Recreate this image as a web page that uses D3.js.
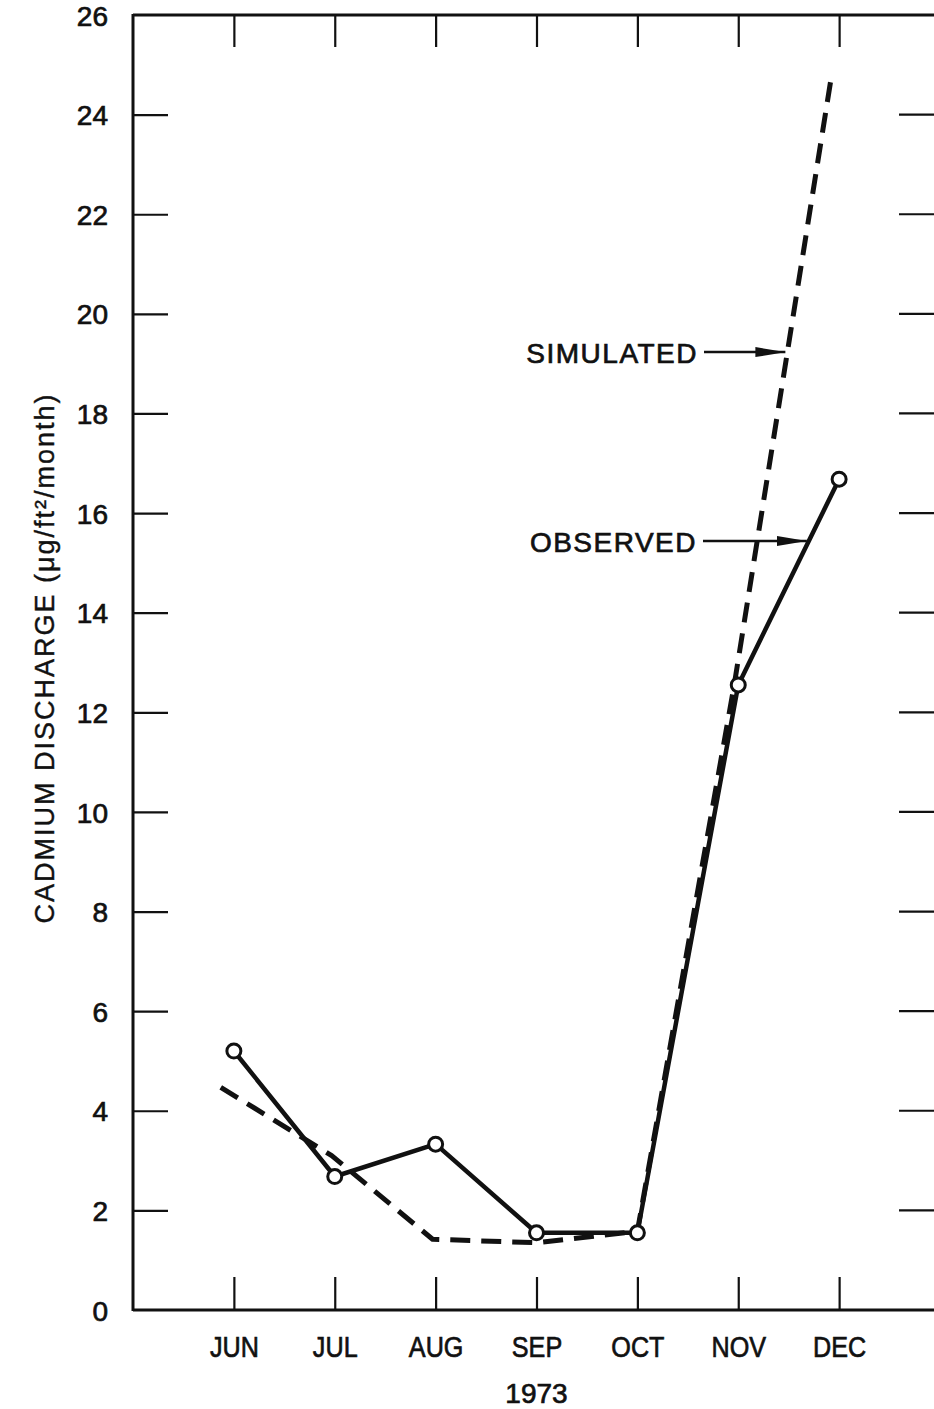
<!DOCTYPE html>
<html>
<head>
<meta charset="utf-8">
<script src="https://cdn.jsdelivr.net/npm/d3@7"></script>
<style>
  html, body { margin: 0; padding: 0; background: #fff; }
  svg { display: block; }
  text { font-family: "Liberation Sans", Arial, sans-serif; fill: #111; stroke: #111; stroke-width: 0.7px; }
</style>
</head>
<body>
<svg id="chart" width="934" height="1409"></svg>
<script>
// ---- data ----
const months = ["JUN", "JUL", "AUG", "SEP", "OCT", "NOV", "DEC"];
const yTicks = [0, 2, 4, 6, 8, 10, 12, 14, 16, 18, 20, 22, 24, 26];
const observedX = [0, 1, 2, 3, 4, 5, 6];
const observedY = [5.2, 2.68, 3.33, 1.55, 1.55, 12.55, 16.68];
const simulatedX = [-0.13, 0.97, 1.97, 3, 4, 4.96, 5.93];
const simulatedY = [4.47, 3.1, 1.42, 1.35, 1.58, 12.55, 24.85];
const yearLabel = "1973";
const yTitle = "CADMIUM DISCHARGE (\u03bcg/ft\u00b2/month)";
const labels = [
  { text: "SIMULATED", series: "sim", at: 5.487 },
  { text: "OBSERVED", series: "obs", at: 5.70 }
];

(function () {
// ---- layout ----
const svg = d3.select("#chart");
const mL = 133, mT = 15, mB = 1310, mR = 940;
const x = d3.scaleLinear().domain([-1, 7]).range([mL, mR]);
const y = d3.scaleLinear().domain([0, 26]).range([mB, mT]);
const ink = "#111";

// frame lines
svg.append("line").attr("x1", mL).attr("x2", mR).attr("y1", mT).attr("y2", mT)
  .attr("stroke", ink).attr("stroke-width", 3);
svg.append("line").attr("x1", mL).attr("x2", mR).attr("y1", mB).attr("y2", mB)
  .attr("stroke", ink).attr("stroke-width", 3);
svg.append("line").attr("x1", mL).attr("x2", mL).attr("y1", mT - 1).attr("y2", mB + 1)
  .attr("stroke", ink).attr("stroke-width", 3);

// left axis: inward ticks + labels
const yAxis = d3.axisLeft(y).tickValues(yTicks).tickSize(-35).tickPadding(25)
  .tickFormat(d3.format("d"));
const gy = svg.append("g").attr("transform", `translate(${mL},0)`).call(yAxis);
gy.select(".domain").remove();
gy.selectAll(".tick line").attr("stroke", ink).attr("stroke-width", 2.2)
  .filter(d => d === 0 || d === 26).remove();
gy.selectAll(".tick text").attr("font-size", 28).attr("fill", ink)
  .attr("font-family", "'Liberation Sans', Arial, sans-serif")
  .attr("x", -25).attr("dy", "0.36em");

// right side inward ticks (frame is outside the picture)
svg.append("g").selectAll("line").data(yTicks.filter(d => d > 0 && d < 26)).join("line")
  .attr("x1", 899).attr("x2", 934).attr("y1", d => y(d)).attr("y2", d => y(d))
  .attr("stroke", ink).attr("stroke-width", 2.2);

// bottom axis
const xAxis = d3.axisBottom(x).tickValues(d3.range(months.length))
  .tickSize(-33).tickPadding(26).tickFormat(i => months[i]);
const gx = svg.append("g").attr("transform", `translate(0,${mB})`).call(xAxis);
gx.select(".domain").remove();
gx.selectAll(".tick line").attr("stroke", ink).attr("stroke-width", 2.2);
gx.selectAll(".tick text").attr("font-size", 30).attr("fill", ink)
  .attr("font-family", "'Liberation Sans', Arial, sans-serif")
  .attr("transform", "scale(0.84,1)");

// top axis ticks
const xTop = d3.axisTop(x).tickValues(d3.range(months.length)).tickSize(-32).tickFormat("");
const gt = svg.append("g").attr("transform", `translate(0,${mT})`).call(xTop);
gt.select(".domain").remove();
gt.selectAll(".tick line").attr("stroke", ink).attr("stroke-width", 2.2);

// year label
svg.append("text").attr("x", x(3)).attr("y", 1403).attr("text-anchor", "middle")
  .attr("font-size", 28).text(yearLabel);

// y title
svg.append("text").attr("transform", `translate(54,658) rotate(-90)`)
  .attr("text-anchor", "middle").attr("font-size", 27).attr("letter-spacing", 2)
  .style("stroke-width", "0.4px").text(yTitle);

// series
const obs = observedX.map((v, i) => [v, observedY[i]]);
const sim = simulatedX.map((v, i) => [v, simulatedY[i]]);
const line = d3.line().x(d => x(d[0])).y(d => y(d[1]));

svg.append("path").attr("d", line(sim)).attr("fill", "none").attr("stroke", ink)
  .attr("stroke-width", 5).attr("stroke-dasharray", "20,11").attr("stroke-linejoin", "round");
svg.append("path").attr("d", line(obs)).attr("fill", "none").attr("stroke", ink)
  .attr("stroke-width", 4.5).attr("stroke-linejoin", "round");
svg.append("g").selectAll("circle").data(obs).join("circle")
  .attr("cx", d => x(d[0])).attr("cy", d => y(d[1])).attr("r", 7)
  .attr("fill", "#fff").attr("stroke", ink).attr("stroke-width", 3);

// labels with arrows pointing at curves
function pointOn(s, xv) {
  for (let i = 0; i < s.length - 1; i++) {
    if (xv >= s[i][0] && xv <= s[i + 1][0]) {
      const t = (xv - s[i][0]) / (s[i + 1][0] - s[i][0]);
      return [xv, s[i][1] + t * (s[i + 1][1] - s[i][1])];
    }
  }
  return s[s.length - 1];
}
svg.append("defs").append("marker").attr("id", "arr").attr("viewBox", "0 0 30 12")
  .attr("refX", 30).attr("refY", 6).attr("markerWidth", 30).attr("markerHeight", 12)
  .attr("markerUnits", "userSpaceOnUse").attr("orient", "auto")
  .append("path").attr("d", "M0,1 L30,6 L0,11 Z").attr("fill", ink);

labels.forEach(l => {
  const p = pointOn(l.series === "sim" ? sim : obs, l.at);
  const px = x(p[0]), py = y(p[1]);
  const tx = l.series === "sim" ? 698 : 697;
  svg.append("text").attr("x", tx).attr("y", py + 11).attr("text-anchor", "end")
    .attr("font-size", 28).attr("letter-spacing", 1.5).text(l.text);
  svg.append("line").attr("x1", tx + 6).attr("x2", px - 2).attr("y1", py).attr("y2", py)
    .attr("stroke", ink).attr("stroke-width", 2.5).attr("marker-end", "url(#arr)");
});
})();
</script>
</body>
</html>
